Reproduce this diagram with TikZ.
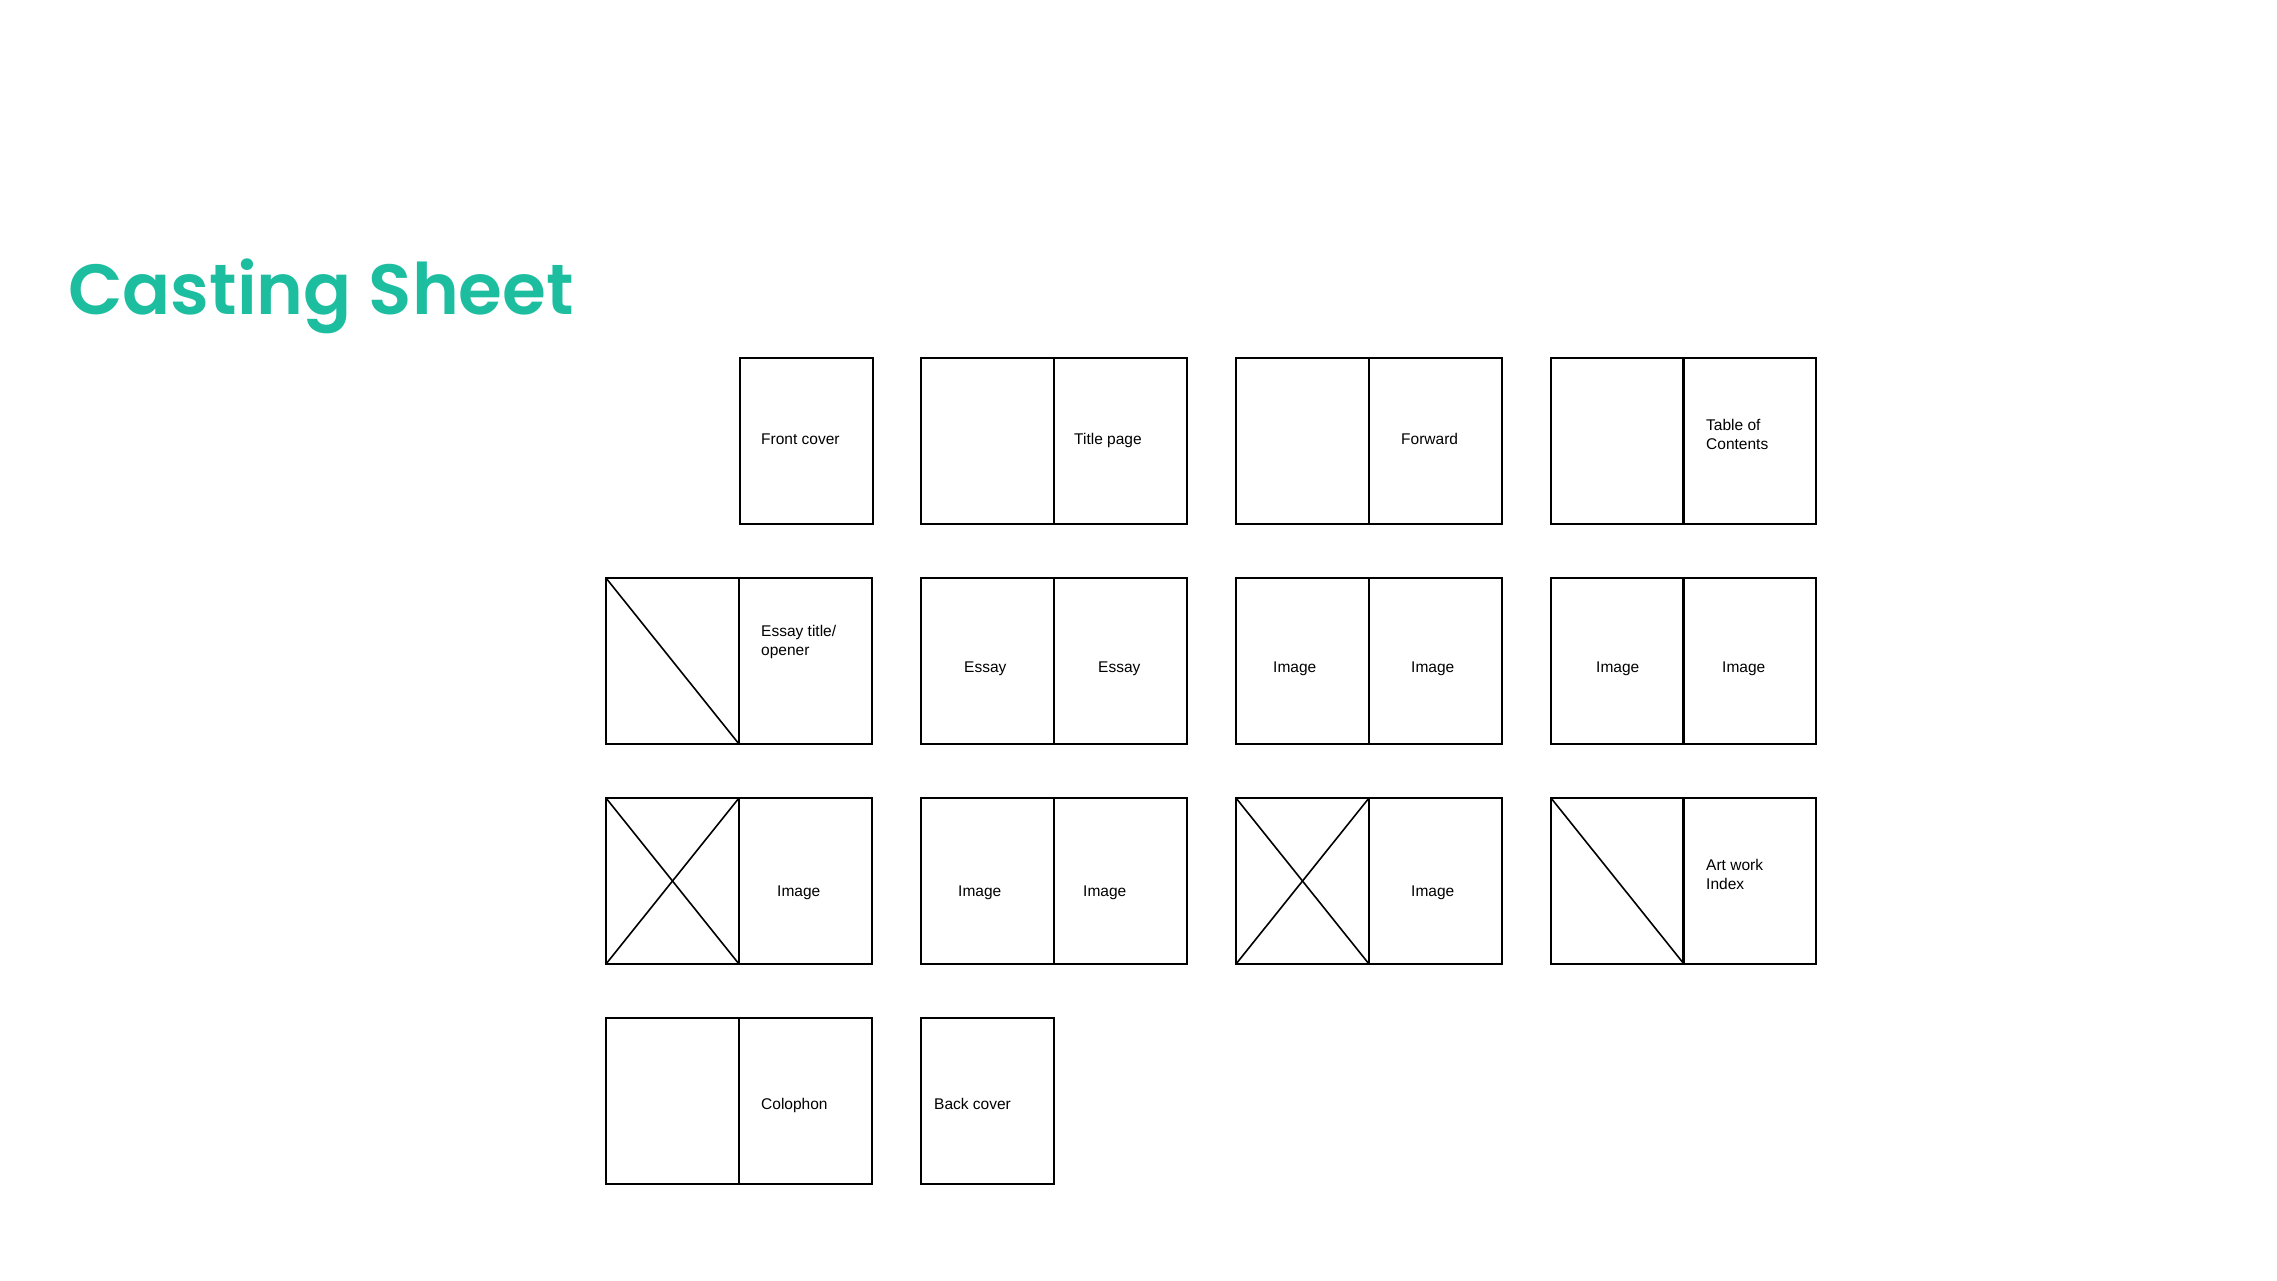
\documentclass[tikz,border=0pt]{standalone}
\usepackage{fontspec}
\setmainfont{Liberation Sans}
\newfontfamily\titlefont{Poppins}[UprightFont=* SemiBold]
\definecolor{castteal}{RGB}{29,189,160}

\begin{document}
\begin{tikzpicture}[x=1pt,y=-1pt,
    leaf/.style={draw, line width=1.6pt, minimum width=133pt, minimum height=166pt,
      inner sep=0pt, outer sep=0pt, anchor=north west},
    lbl/.style={font=\fontsize{15.5}{18.3}\selectfont, anchor=base west, inner sep=0pt, align=left},
    slash/.style={line width=1.6pt}]
    \useasboundingbox (0,0) rectangle (2277,1280);
    \node[font=\titlefont\fontsize{71}{78}\selectfont, text=castteal, anchor=base west, inner sep=0pt]
      (title) at (68,314) {Casting Sheet};
    % Row 1
    \node[leaf] (front) at (740,358) {};
    \node[leaf] (titleL) at (921,358) {};
    \node[leaf] (titleR) at (1054,358) {};
    \node[leaf] (fwdL) at (1236,358) {};
    \node[leaf] (fwdR) at (1369,358) {};
    \node[leaf] (tocL) at (1551,358) {};
    \node[leaf] (tocR) at (1683,358) {};
    \node[lbl] (tFront) at (761,444) {Front cover};
    \node[lbl] (tTitle) at (1074,444) {Title page};
    \node[lbl] (tFwd) at (1401,444) {Forward};
    \node[lbl] (tToc) at (1706,449) {Table of\\Contents};
    % Row 2
    \node[leaf] (openL) at (606,578) {};
    \node[leaf] (openR) at (739,578) {};
    \node[leaf] (essL) at (921,578) {};
    \node[leaf] (essR) at (1054,578) {};
    \node[leaf] (imgAL) at (1236,578) {};
    \node[leaf] (imgAR) at (1369,578) {};
    \node[leaf] (imgBL) at (1551,578) {};
    \node[leaf] (imgBR) at (1683,578) {};
    \draw[slash] (openL.north west) -- (openL.south east);
    \node[lbl] (tOpen) at (761,655) {Essay title/\\opener};
    \node[lbl] (tEssL) at (964,672) {Essay};
    \node[lbl] (tEssR) at (1098,672) {Essay};
    \node[lbl] (tImgAL) at (1273,672) {Image};
    \node[lbl] (tImgAR) at (1411,672) {Image};
    \node[lbl] (tImgBL) at (1596,672) {Image};
    \node[lbl] (tImgBR) at (1722,672) {Image};
    % Row 3
    \node[leaf] (xAL) at (606,798) {};
    \node[leaf] (xAR) at (739,798) {};
    \node[leaf] (imgCL) at (921,798) {};
    \node[leaf] (imgCR) at (1054,798) {};
    \node[leaf] (xBL) at (1236,798) {};
    \node[leaf] (xBR) at (1369,798) {};
    \node[leaf] (artL) at (1551,798) {};
    \node[leaf] (artR) at (1683,798) {};
    \draw[slash] (xAL.north west) -- (xAL.south east);
    \draw[slash] (xAL.south west) -- (xAL.north east);
    \draw[slash] (xBL.north west) -- (xBL.south east);
    \draw[slash] (xBL.south west) -- (xBL.north east);
    \draw[slash] (artL.north west) -- (artL.south east);
    \node[lbl] (tXA) at (777,896) {Image};
    \node[lbl] (tImgCL) at (958,896) {Image};
    \node[lbl] (tImgCR) at (1083,896) {Image};
    \node[lbl] (tXB) at (1411,896) {Image};
    \node[lbl] (tArt) at (1706,889) {Art work\\Index};
    % Row 4
    \node[leaf] (colL) at (606,1018) {};
    \node[leaf] (colR) at (739,1018) {};
    \node[leaf] (back) at (921,1018) {};
    \node[lbl] (tCol) at (761,1109) {Colophon};
    \node[lbl] (tBack) at (934,1109) {Back cover};
\end{tikzpicture}
\end{document}
